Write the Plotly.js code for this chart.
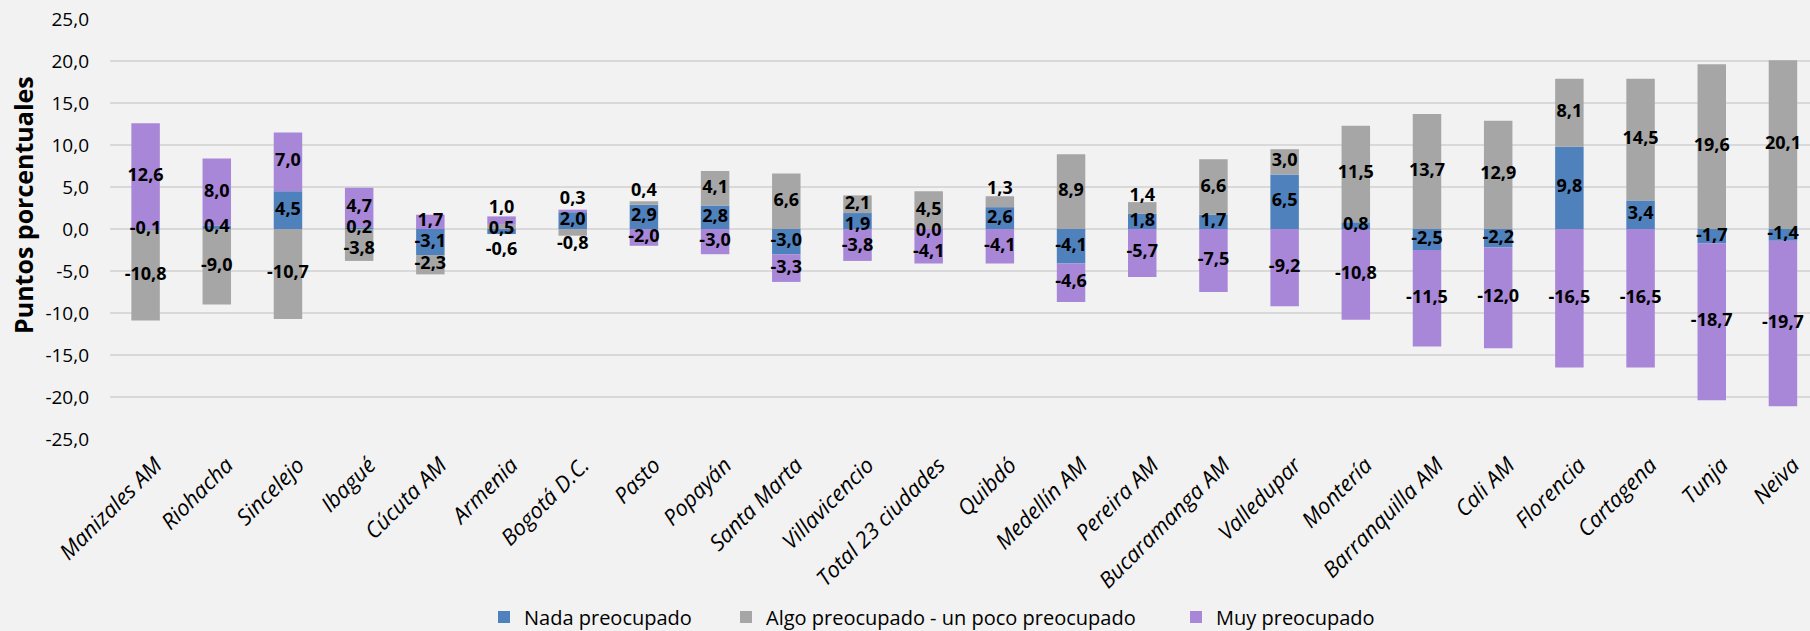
<!DOCTYPE html>
<html>
<head>
<meta charset="utf-8">
<script src="https://cdn.plot.ly/plotly-3.0.1.min.js"></script>
<style>html,body{margin:0;padding:0;background:#f2f2f2;}</style>
</head>
<body>
<div id="chart" style="width:1810px;height:631px;"></div>
<script>
const categories = ["Manizales AM","Riohacha","Sincelejo","Ibagué","Cúcuta AM","Armenia","Bogotá D.C.","Pasto","Popayán","Santa Marta","Villavicencio","Total 23 ciudades","Quibdó","Medellín AM","Pereira AM","Bucaramanga AM","Valledupar","Montería","Barranquilla AM","Cali AM","Florencia","Cartagena","Tunja","Neiva"];
const nada = [-0.1, 0.4, 4.5, 0.2, -3.1, -0.6, 2.0, 2.9, 2.8, -3.0, 1.9, 0.0, 2.6, -4.1, 1.8, 1.7, 6.5, 0.8, -2.5, -2.2, 9.8, 3.4, -1.7, -1.4];
const algo = [-10.8, -9.0, -10.7, -3.8, -2.3, 0.5, -0.8, 0.4, 4.1, 6.6, 2.1, 4.5, 1.3, 8.9, 1.4, 6.6, 3.0, 11.5, 13.7, 12.9, 8.1, 14.5, 19.6, 20.1];
const muy = [12.6, 8.0, 7.0, 4.7, 1.7, 1.0, 0.3, -2.0, -3.0, -3.3, -3.8, -4.1, -4.1, -4.6, -5.7, -7.5, -9.2, -10.8, -11.5, -12.0, -16.5, -16.5, -18.7, -19.7];
const seriesNames = ["Nada preocupado", "Algo preocupado - un poco preocupado", "Muy preocupado"];
const yTickValues = [-25, -20, -15, -10, -5, 0, 5, 10, 15, 20, 25];

const seriesColors = ["#4f81bd", "#a6a6a6", "#a886d8"];
const FONT = "Open Sans, Liberation Sans, sans-serif";
const fmt = v => v.toFixed(1).replace(".", ",");
const series = [nada, algo, muy];

// stacking (relative mode) to find a label anchor for each segment
const n = categories.length;
const labelY = series.map(() => new Array(n));
const MIN_GAP = 2.5;
for (let j = 0; j < n; j++) {
  let pos = 0, neg = 0;
  const segs = [];
  series.forEach((vals, i) => {
    const v = vals[j];
    if (v >= 0) { segs.push({i, start: pos, end: pos + v, sign: 1}); pos += v; }
    else { segs.push({i, start: neg, end: neg + v, sign: -1}); neg += v; }
  });
  segs.forEach(s => {
    const h = Math.abs(s.end - s.start);
    const outer = s.sign > 0 ? Math.abs(s.end - pos) < 1e-9 : Math.abs(s.end - neg) < 1e-9;
    s.y = (s.start + s.end) / 2;
    if (outer && h < 1.5 && h > 0) s.y = s.end + s.sign * (1.4 - h / 2);
  });
  // keep labels of one column from overlapping: push lower ones down
  segs.sort((a, b) => b.y - a.y);
  for (let k = 1; k < segs.length; k++) {
    if (segs[k - 1].y - segs[k].y < MIN_GAP) segs[k].y = segs[k - 1].y - MIN_GAP;
  }
  segs.forEach(s => { labelY[s.i][j] = s.y; });
}

const legendNames = ["legend", "legend2", "legend3"];
const data = series.map((vals, i) => ({
  type: "bar",
  x: categories,
  y: vals,
  name: seriesNames[i],
  legend: legendNames[i],
  marker: {color: seriesColors[i], line: {width: 0}},
  width: 0.4,
  hoverinfo: "x+y+name"
}));
series.forEach((vals, i) => {
  data.push({
    type: "scatter",
    mode: "text",
    x: categories,
    y: labelY[i],
    text: vals.map(fmt),
    textposition: "middle center",
    textfont: {family: FONT, size: 18, color: "#000000", weight: "bold"},
    cliponaxis: false,
    showlegend: false,
    hoverinfo: "skip"
  });
});

function legendAt(xpx) {
  return {
    orientation: "h",
    xref: "container", yref: "container",
    x: xpx / 1810, xanchor: "left",
    y: 1 - 617 / 631, yanchor: "middle",
    font: {family: FONT, size: 20, color: "#000000"},
    bgcolor: "rgba(0,0,0,0)",
    borderwidth: 0
  };
}

const layout = {
  width: 1810,
  height: 631,
  barmode: "relative",
  separators: ",.",
  paper_bgcolor: "#f2f2f2",
  plot_bgcolor: "#f2f2f2",
  margin: {l: 110, r: 0, t: 19, b: 192},
  font: {family: FONT, color: "#000000"},
  xaxis: {
    type: "category",
    range: [-0.5, 23.38],
    tickangle: -45,
    tickfont: {family: FONT, size: 22, style: "italic", color: "#000000"},
    ticklabelstandoff: 8,
    ticklabelshift: 10,
    showgrid: false,
    zeroline: false,
    showline: false,
    ticks: "",
    automargin: false
  },
  yaxis: {
    range: [-25, 25],
    tickmode: "array",
    tickvals: yTickValues,
    ticktext: yTickValues.map(fmt),
    tickfont: {family: FONT, size: 19, color: "#000000"},
    ticklabelstandoff: 20,
    gridcolor: "#d9d9d9",
    gridwidth: 1.5,
    zeroline: false,
    showline: false,
    ticks: "",
    automargin: false
  },
  showlegend: true,
  legend: legendAt(484),
  legend2: legendAt(726),
  legend3: legendAt(1176),
  annotations: [{
    text: "<b>Puntos porcentuales</b>",
    textangle: -90,
    xref: "paper",
    yref: "paper",
    x: 0,
    xshift: -87,
    y: (439 - 205) / 420,
    xanchor: "center",
    yanchor: "middle",
    showarrow: false,
    font: {family: FONT, size: 25, color: "#000000"}
  }]
};

Plotly.newPlot("chart", data, layout, {displayModeBar: false, staticPlot: true});
</script>
</body>
</html>
